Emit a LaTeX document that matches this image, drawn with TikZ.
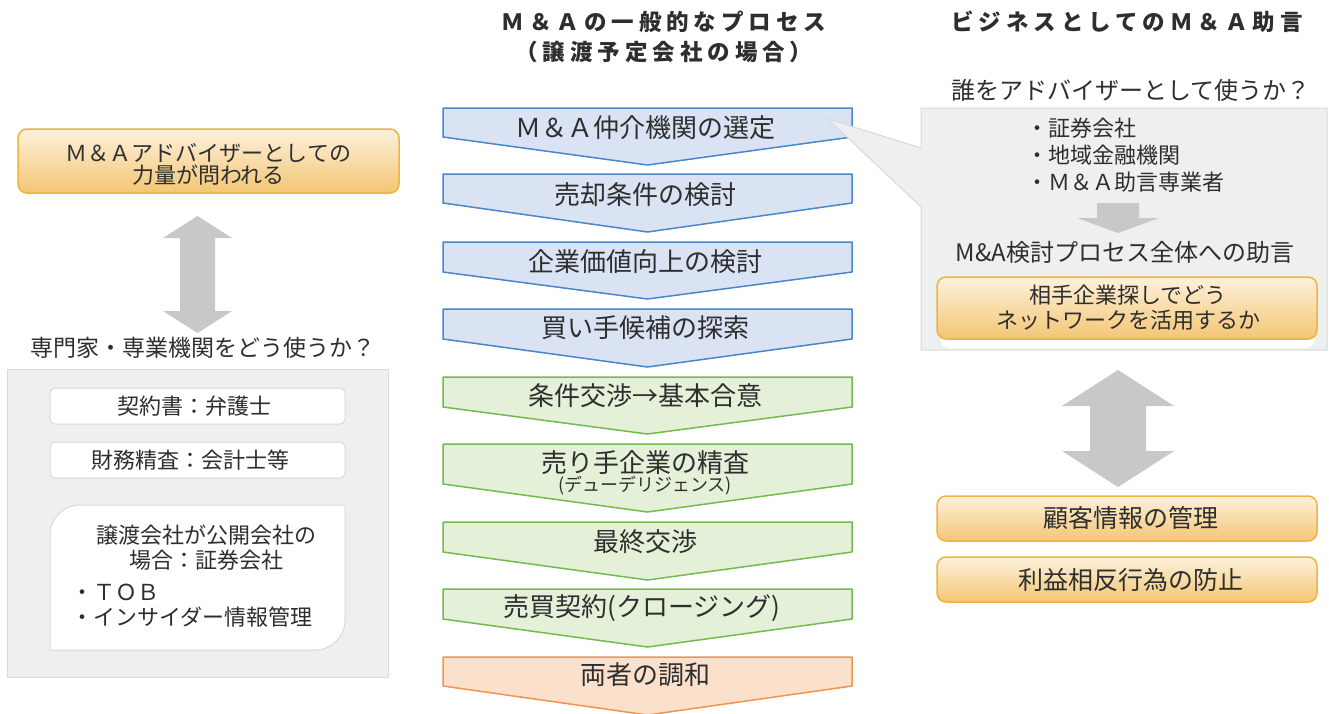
\documentclass[tikz,border=0pt]{standalone}
\usepackage{fontspec}
\setmainfont{Noto Sans CJK JP}
\newfontfamily\ttlfont{Noto Sans CJK JP}[LetterSpace=22]
\definecolor{txt}{HTML}{2E2E2E}
\definecolor{panelfill}{HTML}{EEEFEF}
\definecolor{paneldraw}{HTML}{D8D9DA}
\definecolor{arrowgray}{HTML}{C7C8CA}
\definecolor{bluefill}{HTML}{DAE3F3}
\definecolor{bluedraw}{HTML}{4A86C8}
\definecolor{greenfill}{HTML}{E5F0D9}
\definecolor{greendraw}{HTML}{72BB4E}
\definecolor{orfill}{HTML}{FBE1CC}
\definecolor{ordraw}{HTML}{EF9452}
\definecolor{goldtop}{HTML}{FDF1DC}
\definecolor{goldbot}{HTML}{F3C674}
\definecolor{golddraw}{HTML}{EEB43E}
\newcommand\fsz[2]{\fontsize{#1}{#2}\selectfont}
\newcommand\mkchev[5]{%
  \draw[chevline, fill=#4, draw=#5] (443,#1) -- (852,#1) -- (852,#2) -- (647.5,#3) -- (443,#2) -- cycle;}
\tikzset{
  chevline/.style={line width=1.5pt, line join=round},
  goldbox/.style={draw=golddraw, line width=1.5pt, rounded corners=9pt, top color=goldtop, bottom color=goldbot},
  whitebox/.style={draw=paneldraw, fill=white, line width=1pt},
  panel/.style={draw=paneldraw, fill=panelfill, line width=1pt},
  grayarrow/.style={fill=arrowgray, draw=none},
  lbl/.style={text=txt, inner sep=0pt, align=center},
  ttl/.style={text=txt, inner sep=0pt, align=center, font=\ttlfont\bfseries\fsz{22.5}{30}},
  chevtext/.style={lbl, font=\fsz{26}{30}}
}
\begin{document}
\begin{tikzpicture}[x=1pt,y=-1pt]
\useasboundingbox (0,0) rectangle (1329,713);
\fill[white] (0,0) rectangle (1329,713);

% ---------- left column ----------
\draw[goldbox] (18,129) rectangle (399,193);
\node[lbl, font=\fsz{22}{22}] (tl) at (208.5,164) {Ｍ＆Ａアドバイザーとしての\\力量が問われる};
\draw[grayarrow] (197.5,216) -- (232,238) -- (215,238) -- (215,311) -- (232,311) -- (197.5,333)
  -- (163,311) -- (180,311) -- (180,238) -- (163,238) -- cycle;
\node[lbl, font=\fsz{23}{23}] (lq) at (203,348) {専門家・専業機関をどう使うか？};
\draw[panel] (7,369) rectangle (388,677);
\draw[whitebox, rounded corners=5pt] (50,388) rectangle (345,424);
\node[lbl, font=\fsz{22}{22}] (b1) at (194,406) {契約書：弁護士};
\draw[whitebox, rounded corners=5pt] (50,442) rectangle (345,478);
\node[lbl, font=\fsz{22}{22}] (b2) at (190,460) {財務精査：会計士等};
\draw[whitebox] (50,650) -- (50,535) .. controls (50,518.4) and (63.4,505) .. (80,505)
  -- (345,505) -- (345,620) .. controls (345,636.6) and (331.6,650) .. (315,650) -- cycle;
\node[lbl, font=\fsz{22}{25}] (b3a) at (206,547.5) {譲渡会社が公開会社の\\場合：証券会社};
\node[lbl, anchor=west, font=\fsz{22}{22}] (b3b) at (71,592) {・ＴＯＢ};
\node[lbl, anchor=west, font=\fsz{22}{22}] (b3c) at (71,617) {・インサイダー情報管理};

% ---------- middle column ----------
\node[ttl] (mt) at (664,37) {Ｍ＆Ａの一般的なプロセス\\（譲渡予定会社の場合）};
\mkchev{108}{137}{165}{bluefill}{bluedraw}
\mkchev{174}{203}{232}{bluefill}{bluedraw}
\mkchev{242}{272}{299}{bluefill}{bluedraw}
\mkchev{309}{339}{367}{bluefill}{bluedraw}
\mkchev{377}{407}{434}{greenfill}{greendraw}
\mkchev{444}{484}{512}{greenfill}{greendraw}
\mkchev{522}{552}{580}{greenfill}{greendraw}
\mkchev{589}{619}{647}{greenfill}{greendraw}
\mkchev{657}{686}{715}{orfill}{ordraw}
\node[chevtext] (c1) at (645,128) {Ｍ＆Ａ仲介機関の選定};
\node[chevtext] (c2) at (645,195) {売却条件の検討};
\node[chevtext] (c3) at (645,262) {企業価値向上の検討};
\node[chevtext] (c4) at (645,328) {買い手候補の探索};
\node[chevtext] (c5) at (645,396) {条件交渉→基本合意};
\node[chevtext] (c6) at (645,463) {売り手企業の精査};
\node[lbl, font=\fsz{18}{18}] (c6s) at (645,486) {(デューデリジェンス)};
\node[chevtext] (c7) at (645,542) {最終交渉};
\node[chevtext] (c8) at (642,608) {売買契約(クロージング)};
\node[chevtext] (c9) at (645,675) {両者の調和};

% ---------- right column ----------
\node[ttl] (rt) at (1127,22) {ビジネスとしてのＭ＆Ａ助言};
\node[lbl, font=\fsz{24}{24}] (rq) at (1131,90) {誰をアドバイザーとして使うか？};
\draw[panel, line join=miter] (921,108) -- (1327,108) -- (1327,350) -- (921,350) -- (921,207)
  -- (828,119) -- (921,148) -- cycle;
\node[lbl, anchor=west, font=\fsz{22}{27}, align=left] (rb) at (1026,155) {・証券会社\\・地域金融機関\\・Ｍ＆Ａ助言専業者};
\draw[grayarrow] (1097,203) -- (1139,203) -- (1139,218) -- (1159,218) -- (1118,233) -- (1077,218) -- (1097,218) -- cycle;
\node[lbl, font=\fsz{24}{24}] (ra) at (1125,252) {M\&A検討プロセス全体への助言};
\fill[white, rounded corners=9pt] (940,292) rectangle (1315,348);
\draw[goldbox] (937,277) rectangle (1317,339);
\node[lbl, font=\fsz{22}{25}] (rg) at (1128,307.5) {相手企業探しでどう\\ネットワークを活用するか};
\draw[grayarrow] (1118,370) -- (1174,406) -- (1146,406) -- (1146,451) -- (1174,451) -- (1118,487)
  -- (1062,451) -- (1090,451) -- (1090,406) -- (1062,406) -- cycle;
\draw[goldbox] (937,496) rectangle (1317,541);
\node[lbl, font=\fsz{25}{25}] (r1) at (1131,518) {顧客情報の管理};
\draw[goldbox] (937,557) rectangle (1317,602);
\node[lbl, font=\fsz{25}{25}] (r2) at (1131,580) {利益相反行為の防止};
\end{tikzpicture}
\end{document}
